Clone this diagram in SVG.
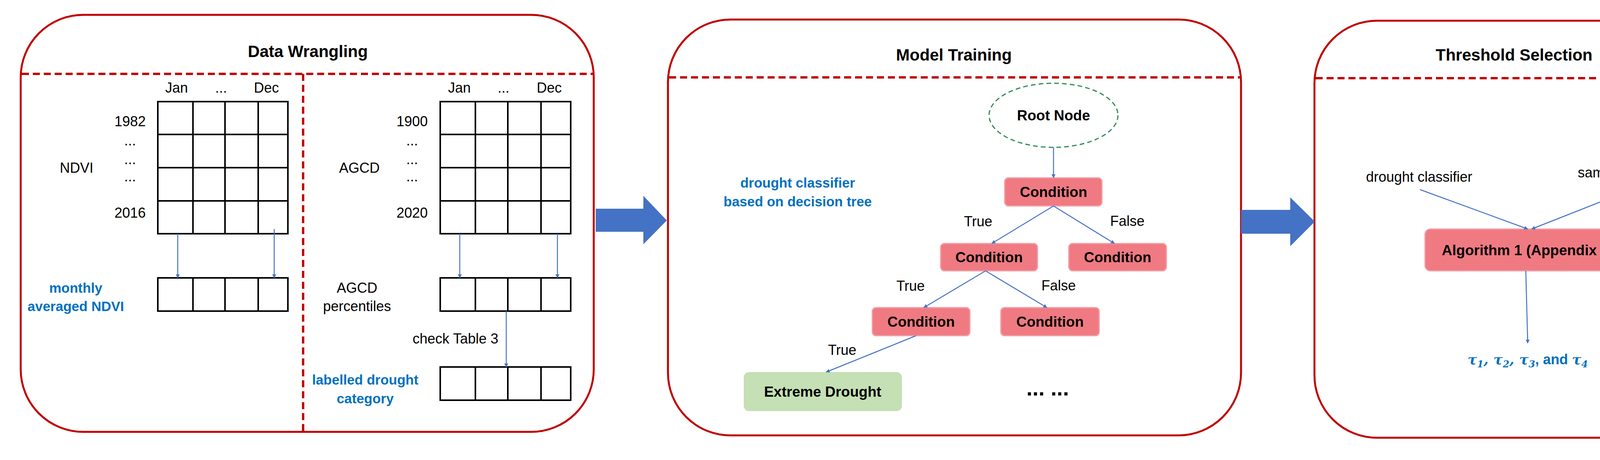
<svg xmlns="http://www.w3.org/2000/svg" width="4438" height="1177" viewBox="0 0 4438 1177">
<style>
.panel{fill:#fff;stroke:#C00000;stroke-width:5}
.dash{stroke:#C00000;stroke-width:6;stroke-dasharray:18 10;fill:none}
.title{font-family:"Liberation Sans",Arial,sans-serif;font-weight:bold;font-size:42px;text-anchor:middle;fill:#000}
.t{font-family:"Liberation Sans",Arial,sans-serif;font-size:36px;text-anchor:middle;fill:#000}
.blue{font-family:"Liberation Sans",Arial,sans-serif;font-weight:bold;font-size:35px;text-anchor:middle;fill:#0070C0}
.cell{fill:none;stroke:#000;stroke-width:4}
.cl{stroke:#4472C4;stroke-width:2.5;fill:none;marker-end:url(#ah)}
.cond{fill:#F07A82;stroke:#F4A0A6;stroke-width:3}
.ct{font-family:"Liberation Sans",Arial,sans-serif;font-weight:bold;font-size:37px;text-anchor:middle;fill:#000}
.big{fill:#4472C4}
</style>
<defs>
<marker id="ah" markerWidth="10" markerHeight="10" refX="9" refY="5" orient="auto" markerUnits="userSpaceOnUse" viewBox="0 0 10 10">
<path d="M0,0 L10,5 L0,10 z" fill="#4472C4"/>
</marker>
</defs>
<rect width="4438" height="1177" fill="#fff"/>

<g id="panel-data-wrangling">
<rect class="panel" x="53" y="38" width="1467" height="1067" rx="160"/>
<line class="dash" x1="56" y1="189" x2="1517" y2="189"/>
<line class="dash" x1="776" y1="189" x2="776" y2="1103"/>
<text class="title" x="788" y="146">Data Wrangling</text>
</g>

<g id="ndvi-grid">
<rect class="cell" x="404" y="260" width="333" height="338"/>
<path class="cell" d="M494,260V598M576,260V598M661,260V598M404,344H737M404,429H737M404,514H737"/>
<text class="t" x="452" y="237">Jan</text><text class="t" x="566" y="237">...</text><text class="t" x="682" y="237">Dec</text>
<text class="t" x="333" y="323">1982</text><text class="t" x="333" y="372">...</text><text class="t" x="333" y="420">...</text><text class="t" x="333" y="464">...</text><text class="t" x="333" y="557">2016</text>
<text class="t" x="196" y="442">NDVI</text>
</g>
<g id="ndvi-monthly">
<rect class="cell" x="404" y="711" width="333" height="85"/>
<path class="cell" d="M494,711V796M576,711V796M661,711V796"/>
<text class="blue" x="194" y="749">monthly</text><text class="blue" x="194" y="796">averaged NDVI</text>
</g>

<g id="agcd-grid">
<rect class="cell" x="1127" y="260" width="334" height="338"/>
<path class="cell" d="M1217,260V598M1300,260V598M1385,260V598M1127,344H1461M1127,429H1461M1127,514H1461"/>
<text class="t" x="1176" y="237">Jan</text><text class="t" x="1289" y="237">...</text><text class="t" x="1406" y="237">Dec</text>
<text class="t" x="1055" y="323">1900</text><text class="t" x="1055" y="372">...</text><text class="t" x="1055" y="420">...</text><text class="t" x="1055" y="464">...</text><text class="t" x="1055" y="557">2020</text>
<text class="t" x="920" y="442">AGCD</text>
</g>
<g id="agcd-percentiles">
<rect class="cell" x="1127" y="711" width="334" height="85"/>
<path class="cell" d="M1217,711V796M1300,711V796M1385,711V796"/>
<text class="t" x="914" y="749">AGCD</text><text class="t" x="914" y="796">percentiles</text>
</g>
<g id="drought-category">
<rect class="cell" x="1127" y="939" width="334" height="85"/>
<path class="cell" d="M1217,939V1024M1300,939V1024M1385,939V1024"/>
<text class="blue" x="935" y="984">labelled drought</text><text class="blue" x="935" y="1032">category</text>
</g>

<g id="panel-model-training">
<rect class="panel" x="1710" y="50" width="1467" height="1064" rx="160"/>
<line class="dash" x1="1713" y1="198" x2="3174" y2="198"/>
<text class="title" x="2442" y="155">Model Training</text>
<text class="blue" x="2042" y="480">drought classifier</text><text class="blue" x="2042" y="528">based on decision tree</text>
<text x="2682" y="1012" font-family="Liberation Sans,sans-serif" font-weight="bold" font-size="56" text-anchor="middle">... ...</text>
</g>
<g id="root-node">
<ellipse cx="2697" cy="295" rx="165" ry="82" fill="#fff" stroke="#2E8B57" stroke-width="3" stroke-dasharray="12 8"/>
<text class="ct" x="2697" y="308" font-size="34">Root Node</text>
</g>
<g id="cond1"><rect class="cond" x="2572" y="455" width="249" height="72" rx="10"/><text class="ct" x="2697" y="504">Condition</text></g>
<g id="cond2"><rect class="cond" x="2408" y="623" width="248" height="70" rx="10"/><text class="ct" x="2532" y="671">Condition</text></g>
<g id="cond3"><rect class="cond" x="2736" y="623" width="250" height="70" rx="10"/><text class="ct" x="2861" y="671">Condition</text></g>
<g id="cond4"><rect class="cond" x="2233" y="787" width="250" height="72" rx="10"/><text class="ct" x="2358" y="836">Condition</text></g>
<g id="cond5"><rect class="cond" x="2562" y="787" width="252" height="72" rx="10"/><text class="ct" x="2688" y="836">Condition</text></g>
<g id="extreme-drought"><rect x="1904" y="952" width="405" height="100" rx="14" fill="#C5E0B4"/><text class="ct" x="2106" y="1015">Extreme Drought</text></g>

<g id="panel-threshold">
<rect class="panel" x="3365" y="53" width="1028" height="1067" rx="160"/>
<line class="dash" x1="3368" y1="200" x2="4390" y2="200"/>
<text class="title" x="3876" y="155">Threshold Selection</text>
<text class="t" x="3633" y="465">drought classifier</text>
<text class="t" x="4202" y="454">sample NDVI values</text>
<text x="3911" y="932" font-family="DejaVu Serif,serif" font-weight="bold" font-style="italic" font-size="36" text-anchor="middle" fill="#0070C0">τ<tspan font-size="24" dy="8">1</tspan><tspan dy="-8">, τ</tspan><tspan font-size="24" dy="8">2</tspan><tspan dy="-8">, τ</tspan><tspan font-size="24" dy="8">3</tspan><tspan dy="-8" font-style="normal" font-family="Liberation Sans,sans-serif">, and </tspan><tspan>τ</tspan><tspan font-size="24" dy="8">4</tspan></text>
</g>
<g id="algorithm"><rect class="cond" x="3648" y="586" width="527" height="107" rx="14"/><text class="ct" x="3911" y="653">Algorithm 1 (Appendix 1)</text></g>

<g id="connectors">
<line class="cl" x1="455" y1="598" x2="455" y2="711"/>
<line class="cl" x1="702" y1="586" x2="702" y2="711"/>
<line class="cl" x1="1177" y1="598" x2="1177" y2="711"/>
<line class="cl" x1="1427" y1="598" x2="1427" y2="711"/>
<line class="cl" x1="1296" y1="796" x2="1296" y2="939"/>
<text class="t" x="1166" y="879">check Table 3</text>
<line class="cl" x1="2697" y1="377" x2="2697" y2="455"/>
<line class="cl" x1="2697" y1="527" x2="2539" y2="623"/>
<line class="cl" x1="2697" y1="527" x2="2853" y2="623"/>
<line class="cl" x1="2523" y1="693" x2="2365" y2="787"/>
<line class="cl" x1="2523" y1="693" x2="2680" y2="787"/>
<line class="cl" x1="2345" y1="859" x2="2115" y2="952"/>
<text class="t" x="2504" y="579">True</text><text class="t" x="2886" y="578">False</text>
<text class="t" x="2331" y="744">True</text><text class="t" x="2710" y="743">False</text>
<text class="t" x="2156" y="908">True</text>
<line class="cl" x1="3635" y1="485" x2="3911" y2="586"/>
<line class="cl" x1="4203" y1="475" x2="3921" y2="586"/>
<line class="cl" x1="3906" y1="693" x2="3911" y2="878"/>
<path class="big" d="M1525,534H1647V501L1707,564L1647,625V593H1525Z"/>
<path class="big" d="M3177,537H3303V505L3366,567L3303,630V598H3177Z"/>
</g>
</svg>
